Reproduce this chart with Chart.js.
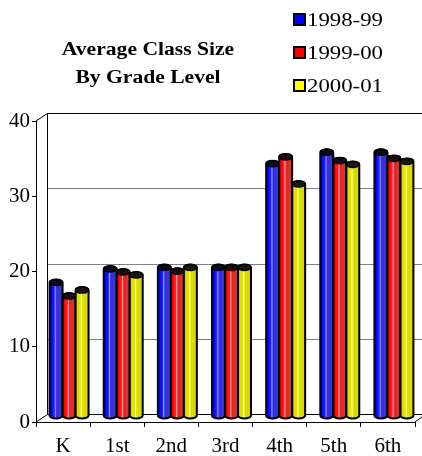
<!DOCTYPE html>
<html>
<head>
<meta charset="utf-8">
<script src="https://cdn.jsdelivr.net/npm/chart.js@4/dist/chart.umd.min.js"></script>
<style>
  html, body { margin: 0; padding: 0; background: #fff; }
  #wrap { width: 422px; height: 456px; }
</style>
</head>
<body>
<div id="wrap"><canvas id="myChart" width="422" height="456"></canvas></div>
<script>
const grades = ['K', '1st', '2nd', '3rd', '4th', '5th', '6th']
const years = ['1998-99', '1999-00', '2000-01']
const size9899 = [18, 19.8, 20, 20, 33.8, 35.3, 35.3]
const size9900 = [16.2, 19.4, 19.5, 20, 34.7, 34.2, 34.5]
const size0001 = [17, 19, 20, 20, 31.1, 33.7, 34.1]
const yTicks = [0, 10, 20, 30, 40]

const serif = '"Liberation Serif", "Times New Roman", serif'

// colores de los cilindros
const tones = [
  { swatch: '#0000ff', stops: ['#000080', '#0000ff', '#2424ff', '#8c8cff', '#3030e0', '#3a3ac4'], cap: '#0a0a1e' },
  { swatch: '#ff0000', stops: ['#800000', '#ff0000', '#ff2020', '#ff9c9c', '#e42424', '#cf3c3c'], cap: '#1e0a0a' },
  { swatch: '#ffff00', stops: ['#7a7a00', '#dcdc00', '#e6e600', '#ffff90', '#e0e000', '#d2d21c'], cap: '#1a1a08' },
]

// profundidad del "3D"
const depthX = 11, depthY = -8
const barDX = 6, barDY = -4
const stretch = 1.2

const backWall = {
  id: 'backWall',
  beforeDatasetsDraw(chart) {
    const { ctx, chartArea: a, scales } = chart
    ctx.save()
    ctx.lineWidth = 1
    ctx.strokeStyle = '#808080'
    yTicks.forEach(v => {
      if (v === 0 || v === 40) return
      const y = Math.round(scales.y.getPixelForValue(v) + depthY) + 0.5
      ctx.beginPath()
      ctx.moveTo(a.left + depthX, y)
      ctx.lineTo(chart.width, y)
      ctx.stroke()
    })
    ctx.strokeStyle = '#000'
    const top = Math.round(a.top + depthY) + 0.5
    const floor = Math.round(a.bottom + depthY) + 0.5
    const bx = Math.round(a.left + depthX) + 0.5
    ctx.beginPath()
    ctx.moveTo(bx, top); ctx.lineTo(chart.width, top)
    ctx.moveTo(bx, top); ctx.lineTo(bx, floor)
    ctx.moveTo(bx, floor); ctx.lineTo(chart.width, floor)
    ctx.moveTo(a.left, a.top); ctx.lineTo(bx, top)
    ctx.moveTo(a.left, a.bottom); ctx.lineTo(bx, floor)
    ctx.moveTo(a.right, a.bottom); ctx.lineTo(a.right + depthX, a.bottom + depthY)
    ctx.stroke()
    ctx.restore()
  }
}

const cylinders = {
  id: 'cylinders',
  afterDatasetsDraw(chart) {
    const ctx = chart.ctx
    chart.data.datasets.forEach((ds, i) => {
      const meta = chart.getDatasetMeta(i)
      const tone = tones[i]
      meta.data.forEach(bar => {
        const p = bar.getProps(['x', 'y', 'base', 'width'], true)
        const x0 = p.x - p.width / 2 + barDX
        const x1 = p.x + p.width / 2 + barDX
        const cx = (x0 + x1) / 2, rx = (x1 - x0) / 2, ry = 3
        const top = p.y + barDY
        const bottom = p.base + barDY - 2

        const g = ctx.createLinearGradient(x0, 0, x1, 0)
        const pos = [0, 0.14, 0.36, 0.44, 0.54, 1]
        pos.forEach((s, k) => g.addColorStop(s, tone.stops[k]))

        ctx.save()
        ctx.beginPath()
        ctx.moveTo(x0, top)
        ctx.lineTo(x0, bottom)
        ctx.ellipse(cx, bottom, rx, ry, 0, Math.PI, 0, true)
        ctx.lineTo(x1, top)
        ctx.ellipse(cx, top, rx, ry, 0, 0, Math.PI, true)
        ctx.closePath()
        ctx.fillStyle = g
        ctx.fill()
        ctx.lineWidth = 2
        ctx.strokeStyle = '#000'
        ctx.stroke()

        ctx.beginPath()
        ctx.ellipse(cx, top, rx, ry, 0, 0, Math.PI * 2)
        ctx.fillStyle = tone.cap
        ctx.fill()
        ctx.lineWidth = 1.5
        ctx.stroke()
        ctx.restore()
      })
    })
  }
}

// texto un poco ensanchado, como en el original
function wideText(ctx, text, x, y) {
  ctx.save()
  ctx.translate(x, y)
  ctx.scale(stretch, 1)
  ctx.fillText(text, 0, 0)
  ctx.restore()
}

const titleAndLegend = {
  id: 'titleAndLegend',
  afterDraw(chart) {
    const ctx = chart.ctx
    ctx.save()
    ctx.fillStyle = '#000'
    ctx.textAlign = 'center'
    ctx.textBaseline = 'middle'
    ctx.font = 'bold 18px ' + serif
    wideText(ctx, 'Average Class Size', 148, 50)
    wideText(ctx, 'By Grade Level', 148, 78)

    ctx.textAlign = 'left'
    ctx.font = '19px ' + serif
    years.forEach((label, i) => {
      const y = 20 + i * 33
      ctx.fillStyle = tones[i].swatch
      ctx.fillRect(294, y - 6, 11, 11)
      ctx.lineWidth = 2
      ctx.strokeStyle = '#000'
      ctx.strokeRect(294, y - 6, 11, 11)
      ctx.fillStyle = '#000'
      wideText(ctx, label, 307, y + 1)
    })
    ctx.restore()
  }
}

new Chart(document.getElementById('myChart'), {
  type: 'bar',
  data: {
    labels: grades,
    datasets: [
      { label: years[0], data: size9899 },
      { label: years[1], data: size9900 },
      { label: years[2], data: size0001 },
    ].map(d => ({ ...d, backgroundColor: 'rgba(0,0,0,0)', borderWidth: 0 })),
  },
  options: {
    responsive: false,
    animation: false,
    layout: { padding: { top: 121, right: 7, left: 0, bottom: 0 } },
    datasets: { bar: { categoryPercentage: 0.72, barPercentage: 1 } },
    plugins: {
      legend: { display: false },
      title: { display: false },
      tooltip: { enabled: false },
    },
    scales: {
      x: {
        afterFit: s => { s.height = 34 },
        grid: { drawOnChartArea: false, drawTicks: true, tickLength: 5, color: '#000', offset: true },
        border: { display: true, color: '#000', width: 1 },
        ticks: { color: '#000', font: { family: serif, size: 21 }, padding: 7 },
      },
      y: {
        min: 0,
        max: 40,
        afterFit: s => { s.width = 36 },
        afterBuildTicks: s => { s.ticks = yTicks.map(v => ({ value: v })) },
        grid: { drawOnChartArea: false, drawTicks: true, tickLength: 4, color: '#000' },
        border: { display: true, color: '#000', width: 1 },
        ticks: { color: '#000', font: { family: serif, size: 21 }, padding: 2 },
      },
    },
  },
  plugins: [backWall, cylinders, titleAndLegend],
})
</script>
</body>
</html>
